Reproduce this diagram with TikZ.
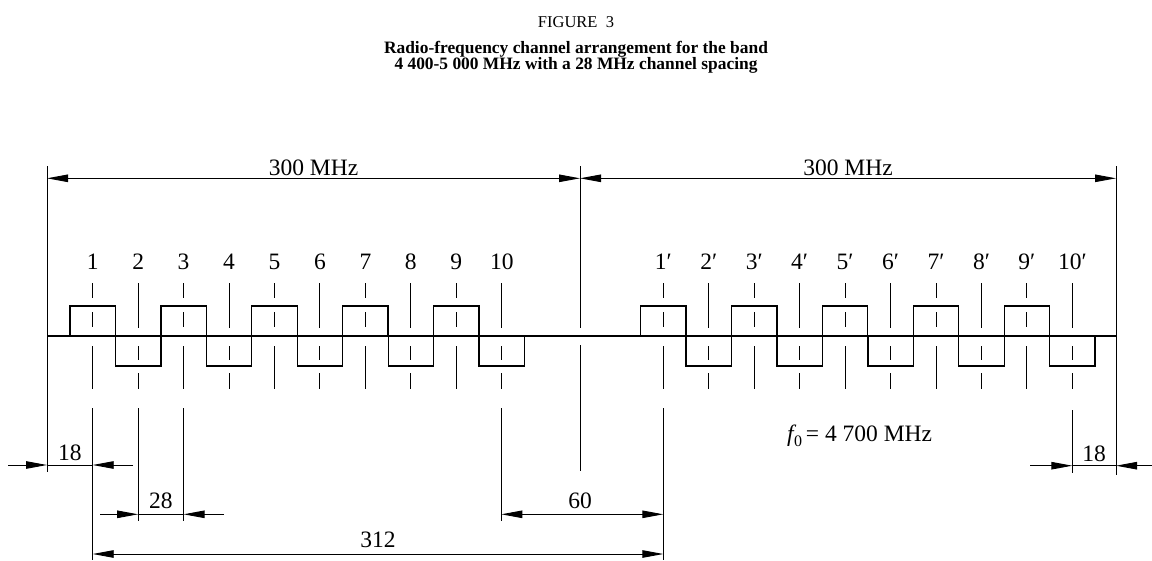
\documentclass[tikz,border=0pt]{standalone}
\usepackage{fontspec}
\setmainfont{Liberation Serif}
\usetikzlibrary{arrows.meta}
\begin{document}
\begin{tikzpicture}[x=1pt,y=-1pt,
  thinline/.style={line width=1pt},
  chanline/.style={line width=1.3pt},
  axisline/.style={line width=2pt},
  tip/.tip={Triangle[length=21pt,width=7.5pt]},
  dimline/.style={line width=0.9pt},
  dimarrow/.style={line width=0.9pt,-tip},
  lbl/.style={font=\fontsize{23.5}{23.5}\selectfont,inner sep=0pt,anchor=base},
  ttl/.style={font=\bfseries\fontsize{17.4}{17}\selectfont,inner sep=0pt,anchor=base},
]
\useasboundingbox (0,0) rectangle (1152,560);

% title
\node[font=\fontsize{16.5}{16.5}\selectfont,inner sep=0pt,anchor=base] (fig) at (576,27) {FIGURE\ \ 3};
\node[ttl] (t1) at (576,53) {Radio-frequency channel arrangement for the band};
\node[ttl] (t2) at (576,69) {4 400-5 000 MHz with a 28 MHz channel spacing};

% boundary / centre lines
\coordinate (Ltop) at (47,166);  \coordinate (Lbot) at (47,472);
\coordinate (Ctop) at (580,166); \coordinate (Cmid1) at (580,328);
\coordinate (Cmid2) at (580,345); \coordinate (Cbot) at (580,471);
\coordinate (Rtop) at (1116,166); \coordinate (Rbot) at (1116,475);
\draw[thinline] (Ltop) -- (Lbot);
\draw[thinline] (Ctop) -- (Cmid1);
\draw[thinline] (Cmid2) -- (Cbot);
\draw[thinline] (Rtop) -- (Rbot);

% main axis
\coordinate (A0) at (47,336); \coordinate (A1) at (1117,336);
\draw[axisline] (A0) -- (A1);

% 300 MHz dimensions
\coordinate (TL) at (47,178.3); \coordinate (TC) at (580,178.3); \coordinate (TR) at (1116,178.3);
\coordinate (TLm) at (313.5,178.3); \coordinate (TRm) at (848,178.3);
\draw[dimarrow] (TLm) -- (TL);
\draw[dimarrow] (TLm) -- (TC);
\draw[dimarrow] (TRm) -- (TC);
\draw[dimarrow] (TRm) -- (TR);
\node[lbl] (m300a) at (313.5,175) {300 MHz};
\node[lbl] (m300b) at (848,175) {300 MHz};

% channels
\foreach \k in {1,...,10} {
  \pgfmathsetmacro\xa{92.7+(\k-1)*45.45}
  \pgfmathsetmacro\xb{663.3+(\k-1)*45.45}
  \pgfmathtruncatemacro\odd{mod(\k,2)}
  \foreach \xx/\nm/\lab in {\xa/c/\k, \xb/d/{\k\char"2032}} {
    \coordinate (\nm\k) at (\xx,336);
    \node[lbl] (\nm n\k) at (\xx,269) {\lab};
    \ifnum\odd=1
      \draw[chanline] (\xx-22.7,336) -- (\xx-22.7,306) -- (\xx+22.7,306) -- (\xx+22.7,336);
      \draw[thinline] (\xx,283) -- (\xx,298);
      \draw[thinline] (\xx,312) -- (\xx,327);
      \draw[thinline] (\xx,346) -- (\xx,389);
    \else
      \draw[chanline] (\xx-22.7,336) -- (\xx-22.7,366) -- (\xx+22.7,366) -- (\xx+22.7,336);
      \draw[thinline] (\xx,283) -- (\xx,328);
      \draw[thinline] (\xx,346) -- (\xx,360);
      \draw[thinline] (\xx,373) -- (\xx,389);
    \fi
  }
}

% extension lines
\coordinate (e1a) at (92.7,408);  \coordinate (e1b) at (92.7,560);
\coordinate (e2a) at (138.15,408); \coordinate (e2b) at (138.15,521);
\coordinate (e3a) at (183.6,408); \coordinate (e3b) at (183.6,521);
\coordinate (e10a) at (501.3,408); \coordinate (e10b) at (501.3,521);
\coordinate (f1a) at (663.3,408); \coordinate (f1b) at (663.3,560);
\coordinate (f10a) at (1072.3,410); \coordinate (f10b) at (1072.3,473);
\draw[thinline] (e1a) -- (e1b);
\draw[thinline] (e2a) -- (e2b);
\draw[thinline] (e3a) -- (e3b);
\draw[thinline] (e10a) -- (e10b);
\draw[thinline] (f1a) -- (f1b);
\draw[thinline] (f10a) -- (f10b);

% 18 (left)
\coordinate (s18a) at (8,465); \coordinate (s18b) at (47,465);
\coordinate (s18c) at (92.7,465); \coordinate (s18d) at (133,465);
\draw[dimarrow] (s18a) -- (s18b);
\draw[dimline] (s18b) -- (s18c);
\draw[dimarrow] (s18d) -- (s18c);
\node[lbl] (l18) at (69.8,460) {18};

% 28
\coordinate (s28a) at (100,514.3); \coordinate (s28b) at (138.15,514.3);
\coordinate (s28c) at (183.6,514.3); \coordinate (s28d) at (224,514.3);
\draw[dimarrow] (s28a) -- (s28b);
\draw[dimline] (s28b) -- (s28c);
\draw[dimarrow] (s28d) -- (s28c);
\node[lbl] (l28) at (160.9,508.5) {28};

% 60
\coordinate (s60a) at (501.3,514.3); \coordinate (s60m) at (582,514.3); \coordinate (s60b) at (663.3,514.3);
\draw[dimarrow] (s60m) -- (s60a);
\draw[dimarrow] (s60m) -- (s60b);
\node[lbl] (l60) at (580,508.5) {60};

% 312
\coordinate (s312a) at (92.7,554); \coordinate (s312m) at (378,554); \coordinate (s312b) at (663.3,554);
\draw[dimarrow] (s312m) -- (s312a);
\draw[dimarrow] (s312m) -- (s312b);
\node[lbl] (l312) at (378,547) {312};

% 18 (right)
\coordinate (r18a) at (1030,465.7); \coordinate (r18b) at (1072.3,465.7);
\coordinate (r18c) at (1116,465.7); \coordinate (r18d) at (1152,465.7);
\draw[dimarrow] (r18a) -- (r18b);
\draw[dimline] (r18b) -- (r18c);
\draw[dimarrow] (r18d) -- (r18c);
\node[lbl] (r18) at (1094,461) {18};

% f0
\node[lbl,anchor=base west] (f0) at (787,441.5)
  {{\itshape f}\kern0.02em\raisebox{-0.22em}{\fontsize{16}{16}\selectfont 0}\kern0.16em= 4 700 MHz};
\end{tikzpicture}
\end{document}
